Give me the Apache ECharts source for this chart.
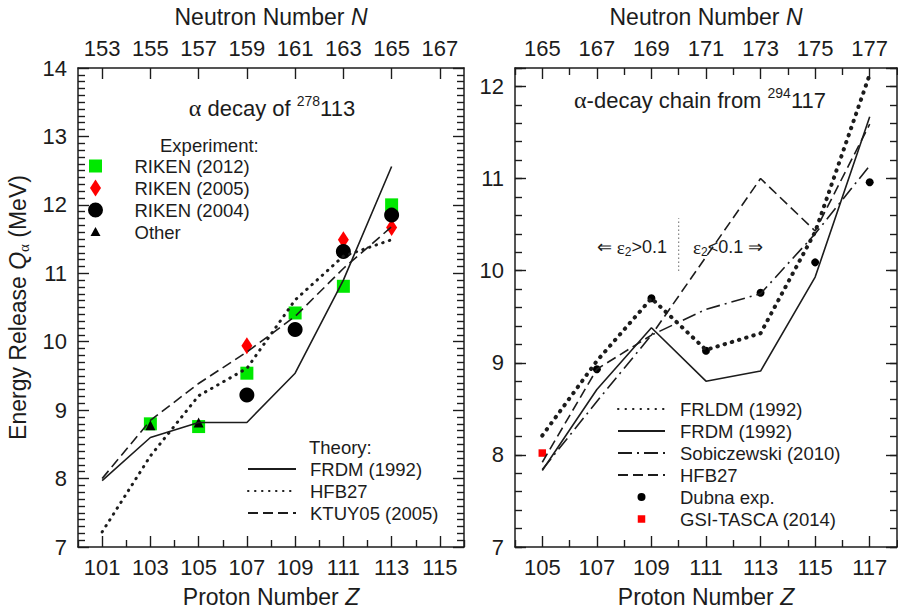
<!DOCTYPE html>
<html>
<head>
<meta charset="utf-8">
<script src="https://cdn.jsdelivr.net/npm/echarts@6/dist/echarts.min.js"></script>
<style>
  html, body { margin: 0; padding: 0; background: #fff; }
  #wrap { width: 898px; height: 614px; position: relative; }
  .panel { position: absolute; top: 0; height: 614px; }
  #left, #leftTicks { left: 0; width: 470px; }
  #right, #rightTicks { left: 470px; width: 428px; }
  #leftTicks, #rightTicks { pointer-events: none; }
</style>
</head>
<body>
<div id="wrap">
  <div id="left" class="panel"></div><div id="right" class="panel"></div>
  <div id="leftTicks" class="panel"></div><div id="rightTicks" class="panel"></div>
</div>
<script>
// ---- left panel: alpha decay of 278-113 ----
const zLeft = [101, 103, 105, 107, 109, 111, 113];
const frdmLeft = [7.97, 8.60, 8.82, 8.82, 9.54, 10.90, 12.56];
const hfb27Left = [7.22, 8.33, 9.21, 9.61, 10.61, 11.25, 11.49];
const ktuyLeft = [8.00, 8.85, 9.39, 9.85, 10.37, 11.07, 11.68];

const riken2012Z = [103, 105, 107, 109, 111, 113];
const riken2012 = [8.80, 8.76, 9.54, 10.42, 10.81, 12.00];
const riken2005Z = [107, 111, 113];
const riken2005 = [9.94, 11.49, 11.67];
const riken2004Z = [107, 109, 111, 113];
const riken2004 = [9.22, 10.18, 11.32, 11.85];
const otherZ = [103, 105];
const other = [8.78, 8.82];

// ---- right panel: decay chain from 294-117 ----
const zRight = [105, 107, 109, 111, 113, 115, 117];
const frldmRight = [8.21, 9.02, 9.70, 9.14, 9.32, 10.42, 12.13];
const frdmRight = [7.83, 8.71, 9.38, 8.80, 8.91, 9.93, 11.67];
const sobiRight = [7.84, 8.58, 9.30, 9.58, 9.75, 10.40, 11.14];
const hfb27Right = [7.92, 8.93, 9.30, 10.15, 11.00, 10.43, 11.59];
const dubnaZ = [107, 109, 111, 113, 115, 117];
const dubna = [8.93, 9.70, 9.13, 9.76, 10.09, 10.96];
const gsiZ = [105];
const gsi = [8.02];
const deformZ = [110, 110];
const deformQ = [10.0, 10.57];

// ---- tick labels ----
const leftZTicks = [101, 103, 105, 107, 109, 111, 113, 115];
const leftNTicks = [153, 155, 157, 159, 161, 163, 165, 167];
const rightZTicks = [105, 107, 109, 111, 113, 115, 117];
const rightNTicks = [165, 167, 169, 171, 173, 175, 177];

const ink = '#1c1c1c';
const font = '"Liberation Sans", Arial, Helvetica, sans-serif';
const serif = '"Liberation Serif", serif';
const green = '#00e800';
const red = '#ff0000';

const leftGrid = { left: 78, top: 68, right: 6, bottom: 67 };
const rightGrid = { left: 45, top: 68, right: 1, bottom: 67 };

function pairs(xs, ys) {
  return xs.map((x, i) => [x, ys[i]]);
}

const nameStyle = {
  fontSize: 23, color: ink, fontFamily: font,
  rich: { i: { fontSize: 23, fontStyle: 'italic', color: ink, fontFamily: font } }
};
function lineOn() {
  return { show: true, onZero: false, lineStyle: { color: ink, width: 1.5 } };
}
function tickLine() {
  return { color: ink, width: 1.2 };
}

// axis carrying the odd labels (Z or N) and the frame line
function xLabelAxis(position, min, max, zTicks, nTicks, name) {
  return {
    type: 'value', position: position, min: min, max: max,
    axisLine: lineOn(),
    axisTick: { show: false },
    axisLabel: { show: true, customValues: zTicks,
      formatter: nTicks ? (v => String(nTicks[zTicks.indexOf(v)])) : null,
      fontSize: 22, color: ink, fontFamily: font, margin: 9 },
    splitLine: { show: false },
    name: name, nameLocation: 'middle', nameGap: position === 'top' ? 40 : 38,
    nameTextStyle: nameStyle
  };
}
// tick-only axis: even values get short ticks, odd values long (minor) ticks
function xTickAxis(position, min, max, showEven) {
  return {
    type: 'value', position: position, min: min, max: max, interval: 2,
    axisLine: { show: false, onZero: false },
    axisTick: { show: showEven, inside: true, length: 7, lineStyle: tickLine() },
    minorTick: { show: true, splitNumber: 2, length: 11, lineStyle: tickLine() },
    axisLabel: { show: false },
    splitLine: { show: false }
  };
}
function yAxisCfg(position, min, max, interval, len, labels, line, minor) {
  const a = {
    type: 'value', position: position, min: min, max: max, interval: interval,
    axisLine: line ? lineOn() : { show: false, onZero: false },
    axisTick: { show: true, inside: true, length: len, lineStyle: tickLine() },
    axisLabel: labels ? { show: true, fontSize: 22, color: ink, fontFamily: font, margin: 11,
      formatter: v => (Math.abs(v - Math.round(v)) < 1e-6 ? String(Math.round(v)) : '') }
      : { show: false },
    splitLine: { show: false }
  };
  if (minor) a.minorTick = { show: true, splitNumber: minor, length: 7, lineStyle: tickLine() };
  return a;
}

function lineSeries(name, xs, ys, style) {
  return {
    name: name, type: 'line', xAxisIndex: 0, yAxisIndex: 0,
    data: pairs(xs, ys), symbol: 'none',
    color: ink,
    lineStyle: Object.assign({ color: ink, width: 1.6 }, style)
  };
}
function scatterSeries(name, xs, ys, symbol, size, color) {
  return {
    name: name, type: 'scatter', xAxisIndex: 0, yAxisIndex: 0,
    data: pairs(xs, ys), symbol: symbol, symbolSize: size,
    itemStyle: { color: color, opacity: 1 }
  };
}

const dotL = { type: [0.5, 6.5], cap: 'round', width: 3 };
const dotR = { type: [0.5, 7], cap: 'round', width: 4 };
const dash = { type: [10, 5] };
const dashDot = { type: [14, 5, 2, 5] };

// legend icons drawn inside a fixed square box so they keep their own size
const iconSquare = 'path://M0,0M2,2L15,2L15,15L2,15ZM17,17';
const iconDiamond = 'path://M0,0M8.5,0L14,8.5L8.5,17L3,8.5ZM17,17';
const iconCircle = 'path://M0,0M1,8.5A7.5,7.5,0,1,1,16,8.5A7.5,7.5,0,1,1,1,8.5ZM17,17';
const iconTriangle = 'path://M0,0M8.5,3.5L13.5,12.5L3.5,12.5ZM17,17';
const iconDot = 'path://M0,0M2,6A4,4,0,1,1,10,6A4,4,0,1,1,2,6ZM12,12';
const iconSmallSquare = 'path://M0,0M2.25,2.25L9.75,2.25L9.75,9.75L2.25,9.75ZM12,12';
const noDot = { opacity: 0, color: 'rgba(0,0,0,0)', borderWidth: 0 };

const legendText = { fontSize: 18.5, color: ink, fontFamily: font, lineHeight: 22 };

function titleText(x, y, before, mass, after) {
  return { type: 'text', x: x, y: y, style: {
    text: '{g|α}{t|' + before + '}{s|' + mass + '}{t|' + after + '}',
    align: 'center', verticalAlign: 'middle',
    rich: {
      g: { fontSize: 24, fontFamily: serif, fill: ink, lineHeight: 28 },
      t: { fontSize: 22, fontFamily: font, fill: ink, lineHeight: 28 },
      s: { fontSize: 14, fontFamily: font, fill: ink, lineHeight: 28, verticalAlign: 'top' }
    } } };
}
const epsRich = {
  e: { fontSize: 19, fontFamily: serif, fill: ink },
  b: { fontSize: 12, fontFamily: font, fill: ink, verticalAlign: 'bottom', lineHeight: 22 }
};

// ---------------- left chart ----------------
const leftOption = {
  animation: false,
  textStyle: { fontFamily: font },
  grid: Object.assign({ outerBoundsMode: 'none' }, leftGrid),
  xAxis: [
    xLabelAxis('bottom', 100, 116, leftZTicks, null, 'Proton Number {i|Z}'),
    xTickAxis('bottom', 100, 116, true),
    xLabelAxis('top', 100, 116, leftZTicks, leftNTicks, 'Neutron Number {i|N}'),
    xTickAxis('top', 100, 116, false)
  ],
  yAxis: [
    Object.assign(yAxisCfg('left', 7, 14, 1, 11, true, true, 10), {
      name: '{n|Energy Release }{q|Q}{a|α}{n| (MeV)}', nameLocation: 'middle', nameGap: 40,
      nameTextStyle: {
        fontSize: 23, color: ink, fontFamily: font,
        rich: {
          n: { fontSize: 23, color: ink, fontFamily: font, lineHeight: 28 },
          q: { fontSize: 23, fontStyle: 'italic', color: ink, fontFamily: font, lineHeight: 28 },
          a: { fontSize: 15, color: ink, fontFamily: serif, lineHeight: 28, verticalAlign: 'bottom' }
        }
      }
    }),
    yAxisCfg('right', 7, 14, 1, 11, false, true, 10)
  ],
  legend: [
    { data: [
        { name: 'RIKEN (2012)', icon: iconSquare },
        { name: 'RIKEN (2005)', icon: iconDiamond },
        { name: 'RIKEN (2004)', icon: iconCircle },
        { name: 'Other', icon: iconTriangle }],
      orient: 'vertical', left: 87, top: 155, padding: 0, symbolKeepAspect: true,
      itemWidth: 68, itemHeight: 17, itemGap: 0,
      selectedMode: false, textStyle: legendText },
    { data: [
        { name: 'FRDM (1992)', itemStyle: noDot },
        { name: 'HFB27', itemStyle: noDot },
        { name: 'KTUY05 (2005)', itemStyle: noDot }],
      orient: 'vertical', left: 247, top: 458, padding: 0,
      itemWidth: 48, itemHeight: 14, itemGap: 0,
      selectedMode: false, textStyle: Object.assign({ padding: [0, 0, 0, 9] }, legendText) }
  ],
  graphic: [
    { type: 'text', x: 160, y: 145, style: { text: 'Experiment:', fill: ink,
      font: '18.5px ' + font, verticalAlign: 'middle' } },
    { type: 'text', x: 309, y: 447, style: { text: 'Theory:', fill: ink,
      font: '18.5px ' + font, verticalAlign: 'middle' } },
    titleText(272, 108, ' decay of ', '278', '113')
  ],
  series: [
    lineSeries('FRDM (1992)', zLeft, frdmLeft, {}),
    lineSeries('HFB27', zLeft, hfb27Left, dotL),
    lineSeries('KTUY05 (2005)', zLeft, ktuyLeft, dash),
    scatterSeries('RIKEN (2012)', riken2012Z, riken2012, 'rect', 13, green),
    scatterSeries('RIKEN (2005)', riken2005Z, riken2005, 'diamond', [11, 17], red),
    scatterSeries('RIKEN (2004)', riken2004Z, riken2004, 'circle', 15, '#000'),
    scatterSeries('Other', otherZ, other, 'triangle', 10, '#000')
  ]
};

// ---------------- right chart (x offset 470) ----------------
const rightOption = {
  animation: false,
  textStyle: { fontFamily: font },
  grid: Object.assign({ outerBoundsMode: 'none' }, rightGrid),
  xAxis: [
    xLabelAxis('bottom', 104, 118, rightZTicks, null, 'Proton Number {i|Z}'),
    xTickAxis('bottom', 104, 118, true),
    xLabelAxis('top', 104, 118, rightZTicks, rightNTicks, 'Neutron Number {i|N}'),
    xTickAxis('top', 104, 118, true)
  ],
  yAxis: [
    yAxisCfg('left', 7, 12.2, 1, 11, true, true, 0),
    yAxisCfg('left', 7, 12.2, 0.2, 7, false, false, 0),
    yAxisCfg('right', 7, 12.2, 1, 11, false, true, 0),
    yAxisCfg('right', 7, 12.2, 0.2, 7, false, false, 0)
  ],
  legend: {
    data: [
      { name: 'FRLDM (1992)', itemStyle: noDot },
      { name: 'FRDM (1992)', itemStyle: noDot },
      { name: 'Sobiczewski (2010)', itemStyle: noDot },
      { name: 'HFB27', itemStyle: noDot },
      { name: 'Dubna exp.', icon: iconDot },
      { name: 'GSI-TASCA (2014)', icon: iconSmallSquare }],
    orient: 'vertical', left: 147, top: 398, padding: 0, symbolKeepAspect: true,
    itemWidth: 47, itemHeight: 12, itemGap: 0,
    selectedMode: false, textStyle: Object.assign({ padding: [0, 0, 0, 10] }, legendText)
  },
  graphic: [
    titleText(230, 100, '-decay chain from ', '294', '117'),
    { type: 'text', x: 197, y: 247, style: {
      text: '⇐ {e|ε}{b|2}>0.1', align: 'right', verticalAlign: 'middle',
      font: '18px ' + font, fill: ink, rich: epsRich } },
    { type: 'text', x: 223, y: 247, style: {
      text: '{e|ε}{b|2}<0.1 ⇒', align: 'left', verticalAlign: 'middle',
      font: '18px ' + font, fill: ink, rich: epsRich } }
  ],
  series: [
    lineSeries('FRLDM (1992)', zRight, frldmRight, dotR),
    lineSeries('FRDM (1992)', zRight, frdmRight, {}),
    lineSeries('Sobiczewski (2010)', zRight, sobiRight, dashDot),
    lineSeries('HFB27', zRight, hfb27Right, dash),
    lineSeries('deform', deformZ, deformQ, { type: [1, 3], width: 1 }),
    scatterSeries('Dubna exp.', dubnaZ, dubna, 'circle', 8, '#000'),
    scatterSeries('GSI-TASCA (2014)', gsiZ, gsi, 'rect', 7.5, red)
  ]
};

// ---------------- tick overlays: plain axes only, nothing else ----------------
const leftTickOption = {
  animation: false,
  grid: Object.assign({}, leftGrid),
  xAxis: [
    xTickAxis('bottom', 100, 116, true),
    xTickAxis('top', 100, 116, false)
  ],
  yAxis: [
    yAxisCfg('left', 7, 14, 1, 11, false, false, 10),
    yAxisCfg('right', 7, 14, 1, 11, false, false, 10)
  ],
  series: []
};
const rightTickOption = {
  animation: false,
  grid: Object.assign({}, rightGrid),
  xAxis: [
    xTickAxis('bottom', 104, 118, true),
    xTickAxis('top', 104, 118, true)
  ],
  yAxis: [
    yAxisCfg('left', 7, 12.2, 1, 11, false, false, 0),
    yAxisCfg('left', 7, 12.2, 0.2, 7, false, false, 0),
    yAxisCfg('right', 7, 12.2, 1, 11, false, false, 0),
    yAxisCfg('right', 7, 12.2, 0.2, 7, false, false, 0)
  ],
  series: []
};

const leftChart = echarts.init(document.getElementById('left'), null, { renderer: 'svg' });
leftChart.setOption(leftOption);
const rightChart = echarts.init(document.getElementById('right'), null, { renderer: 'svg' });
rightChart.setOption(rightOption);
const leftTicks = echarts.init(document.getElementById('leftTicks'), null, { renderer: 'svg' });
leftTicks.setOption(leftTickOption);
const rightTicks = echarts.init(document.getElementById('rightTicks'), null, { renderer: 'svg' });
rightTicks.setOption(rightTickOption);
</script>
</body>
</html>
